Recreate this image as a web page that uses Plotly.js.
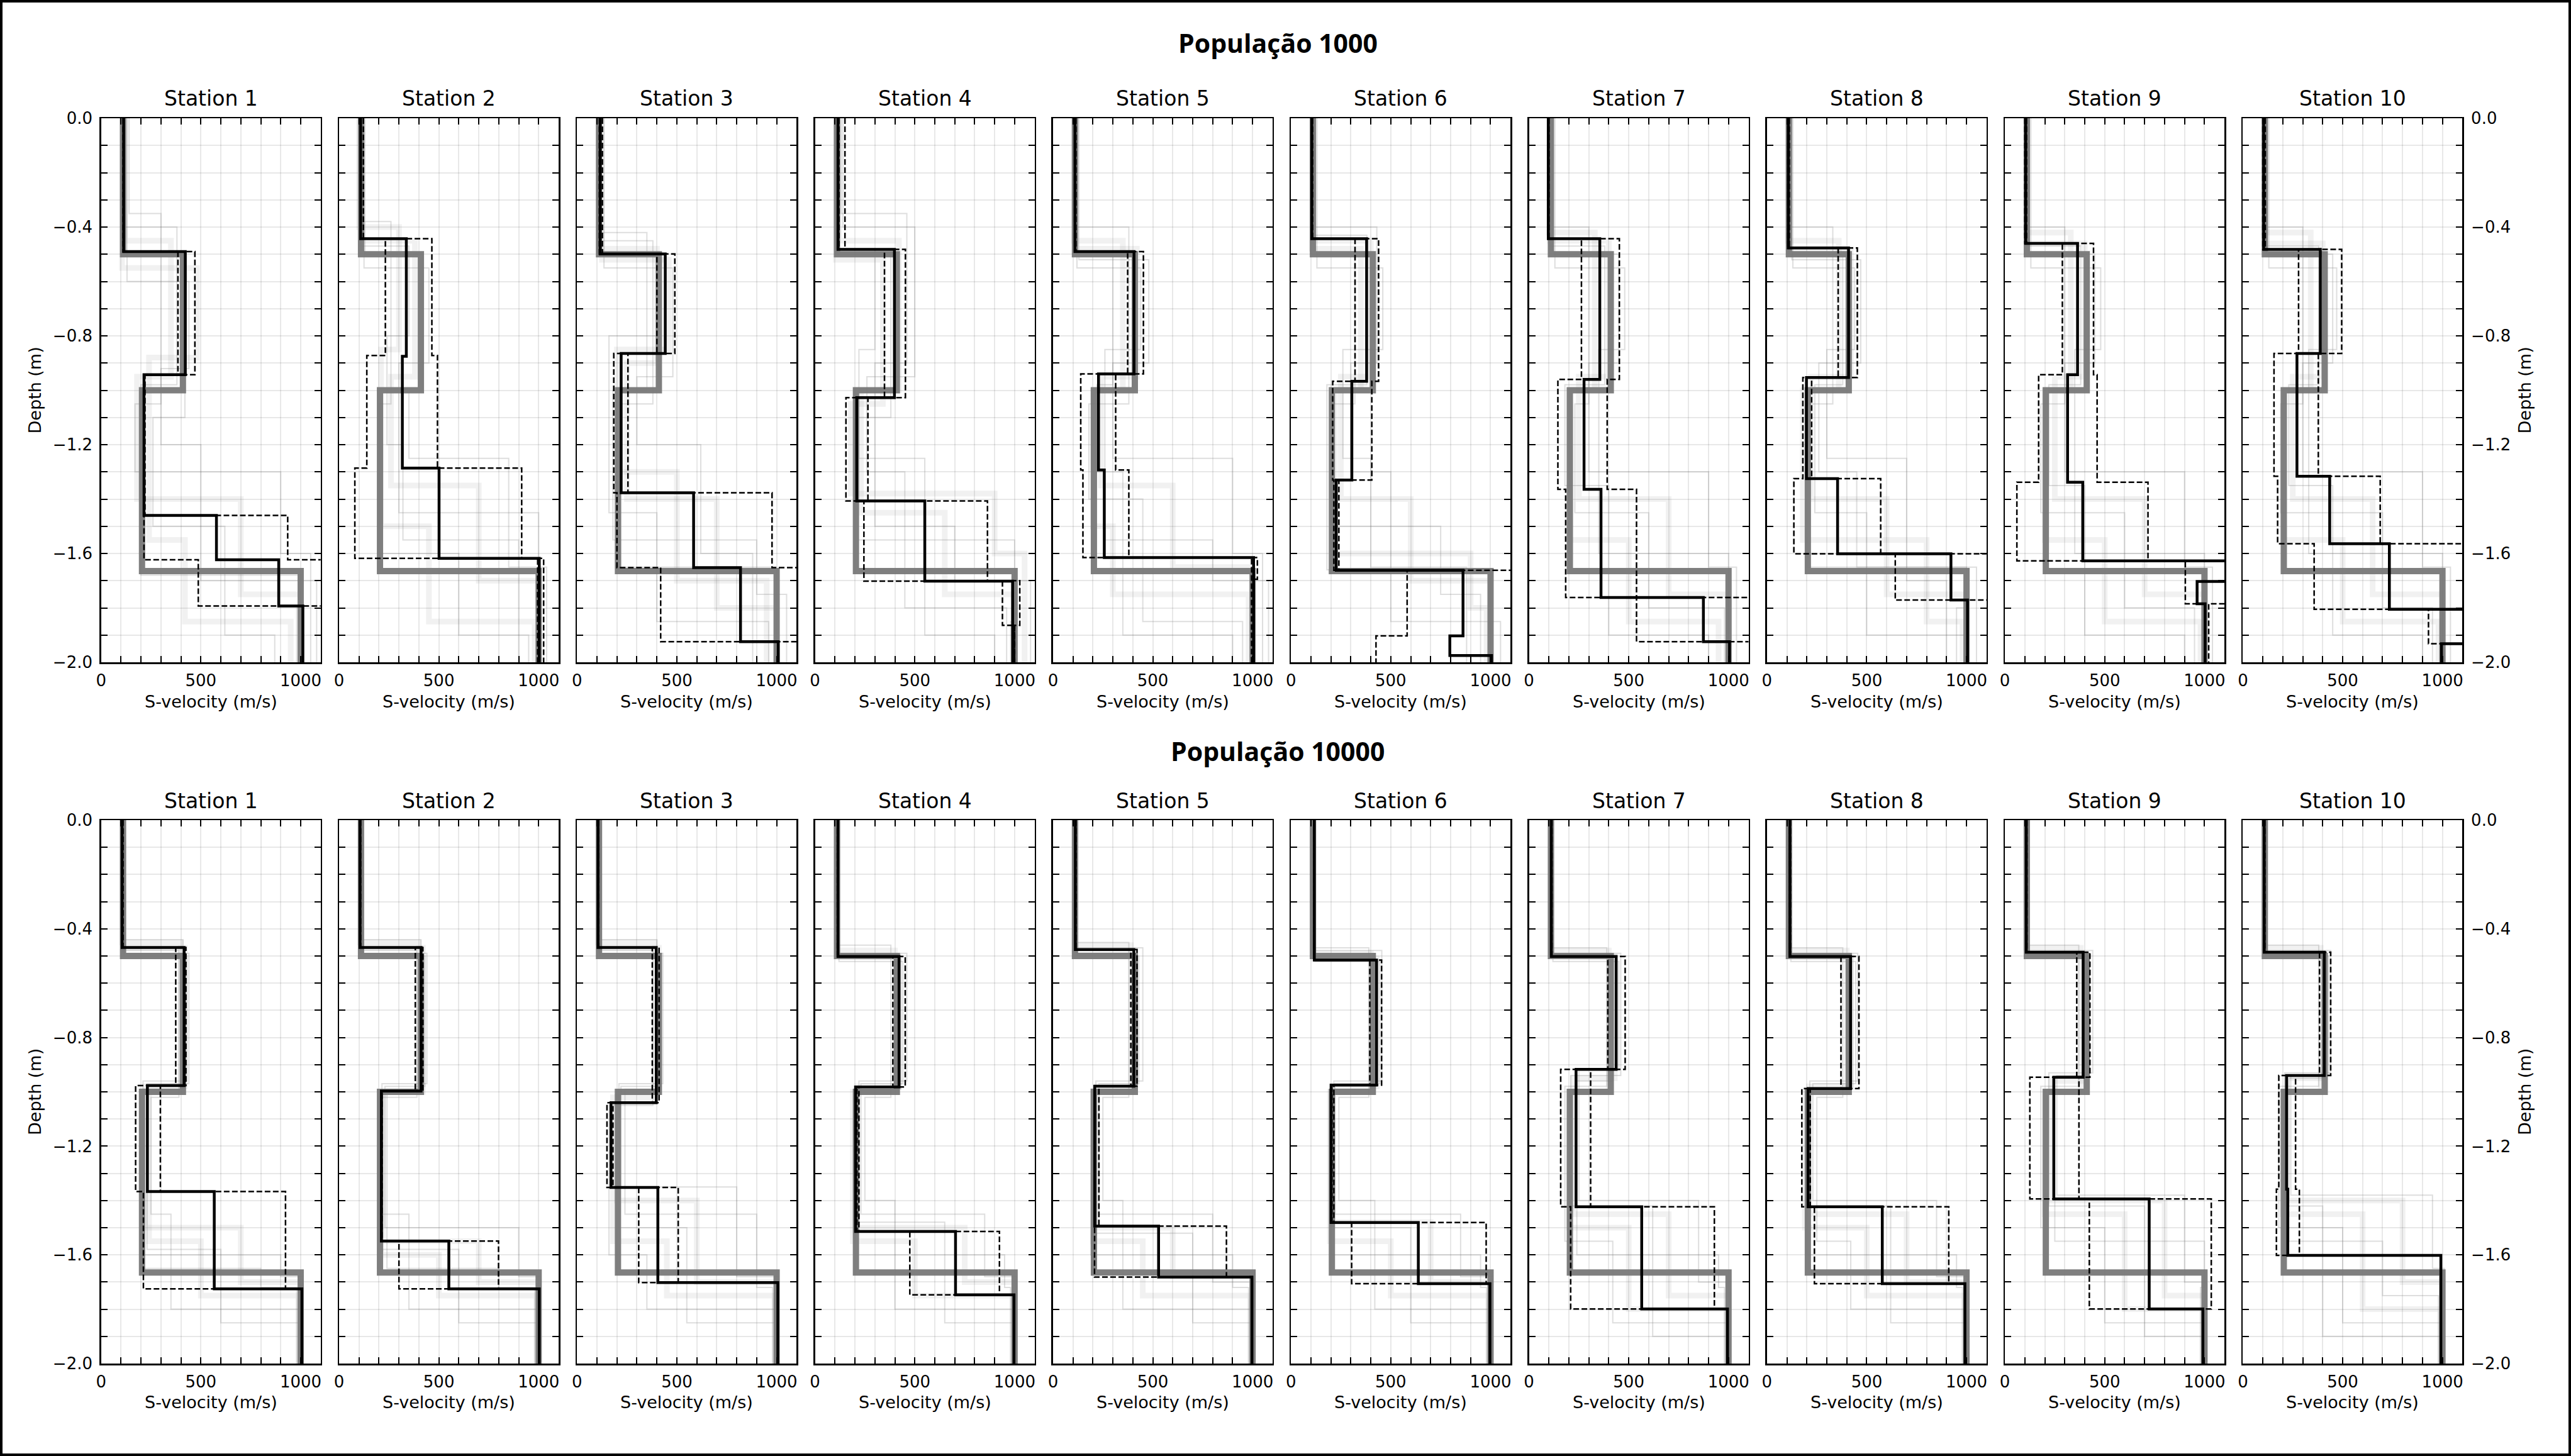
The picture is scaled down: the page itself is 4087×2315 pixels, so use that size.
<!DOCTYPE html>
<html>
<head>
<meta charset="utf-8">
<script src="https://cdn.plot.ly/plotly-3.0.1.min.js"></script>
<style>html,body{margin:0;padding:0;background:#fff;} #chart{width:4087px;height:2315px;}</style>
</head>
<body>
<div id="chart"></div>
<script>
// ---------------- DATA ----------------
const populations = ['População 1000', 'População 10000'];
const stationNames = ['Station 1','Station 2','Station 3','Station 4','Station 5','Station 6','Station 7','Station 8','Station 9','Station 10'];
const xTickVals = [0,100,200,300,400,500,600,700,800,900,1000];
const xTickText = ['0','','','','','500','','','','','1000'];
const yTickVals = [0,-0.1,-0.2,-0.3,-0.4,-0.5,-0.6,-0.7,-0.8,-0.9,-1.0,-1.1,-1.2,-1.3,-1.4,-1.5,-1.6,-1.7,-1.8,-1.9,-2.0];
const yTickText = ['0.0','','','','\u22120.4','','','','\u22120.8','','','','\u22121.2','','','','\u22121.6','','','','\u22122.0'];
const xLabel = 'S-velocity (m/s)';
const yLabel = 'Depth (m)';

// true model (thick gray)
const trueVel = [110, 410, 205, 1000];
const trueDepth = [0.5, 1.0, 1.665];

// Population 1000: best model (black), lower/upper (dashed)
const bestVel_p1000 = [
  [113,422,215,578,890,1011],
  [108,337,317,501,1003],
  [116,442,221,584,819,1008],
  [115,398,209,550,990],
  [110,406,228,257,1005],
  [104,379,305,227,862,796,1005],
  [97,355,276,361,874,1005],
  [107,409,198,354,922,1005],
  [104,364,314,390,1150,963,1003],
  [104,388,271,435,734,1150,995]
];
const bestDepth_p1000 = [
  [0.49,0.943,1.46,1.623,1.793],
  [0.443,0.875,1.286,1.618],
  [0.499,0.865,1.377,1.652,1.924],
  [0.482,1.027,1.407,1.702],
  [0.49,0.94,1.293,1.615],
  [0.443,0.967,1.33,1.662,1.903,1.975],
  [0.443,0.96,1.364,1.762,1.924],
  [0.477,0.953,1.325,1.601,1.771],
  [0.46,0.943,1.338,1.627,1.703,1.785],
  [0.482,0.865,1.316,1.564,1.805,1.932]
];
const loVel_p1000 = [
  [110,385,215,215,487,1150],
  [110,232,139,79,995],
  [112,400,184,200,419,1150],
  [120,348,155,245,939,1000],
  [108,374,139,150,995],
  [104,321,209,215,582,426],
  [97,263,145,184,1150],
  [105,357,180,135,643,1150],
  [100,288,169,60,904,1003],
  [100,279,156,174,357,1150]
];
const loDepth_p1000 = [
  [0.49,0.943,1.46,1.623,1.793],
  [0.443,0.872,1.286,1.618],
  [0.499,0.865,1.377,1.652,1.924],
  [0.482,1.027,1.407,1.702,1.864],
  [0.49,0.94,1.293,1.615],
  [0.443,0.967,1.33,1.662,1.903],
  [0.443,0.96,1.364,1.762],
  [0.477,0.953,1.325,1.601,1.771],
  [0.46,0.943,1.338,1.627,1.785],
  [0.482,0.865,1.316,1.564,1.805]
];
const hiVel_p1000 = [
  [113,470,220,935,1150,1150],
  [122,465,493,915,1025],
  [127,490,255,977,1150],
  [150,453,265,864,1026,1000],
  [115,453,314,380,1024,1005],
  [108,439,405,240,1150],
  [100,453,392,539,1150],
  [112,453,224,570,1150],
  [108,444,462,717,1150,1021],
  [112,495,378,688,1150,930,1150]
];
const hiDepth_p1000 = [
  [0.49,0.943,1.46,1.623,1.793],
  [0.443,0.872,1.286,1.618],
  [0.499,0.865,1.377,1.652],
  [0.482,1.027,1.407,1.70,1.864],
  [0.49,0.94,1.293,1.615,1.695],
  [0.443,0.967,1.33,1.662],
  [0.443,0.96,1.364,1.924],
  [0.477,0.953,1.325,1.601],
  [0.46,0.943,1.338,1.627,1.785],
  [0.482,0.865,1.316,1.564,1.805,1.932]
];
// faint ensemble models: per station, list of [velocities, interface depths]
const faint_p1000 = [
  [[[120,350,180,700,1000],[0.45,0.95,1.40,1.75]],[[105,480,240,420,950],[0.55,0.88,1.55,1.85]],[[140,300,170,900,1050],[0.35,1.05,1.30,1.60]],[[115,420,260,620,870],[0.50,1.10,1.50,1.90]],[[100,380,200,1000,980],[0.40,0.98,1.68,1.80]],[[130,440,300,500,1080],[0.60,0.92,1.20,1.70]]],
  [[[115,380,260,700,1000],[0.45,0.95,1.35,1.70]],[[100,300,210,450,980],[0.40,0.85,1.50,1.85]],[[130,420,350,850,1040],[0.50,1.00,1.25,1.65]],[[110,260,200,600,950],[0.38,1.05,1.60,1.90]],[[125,450,300,1000,1000],[0.55,0.90,1.45,1.75]],[[105,350,240,320,900],[0.47,0.80,1.20,1.55]]],
  [[[110,400,250,700,1000],[0.48,0.90,1.40,1.80]],[[125,460,200,500,950],[0.52,0.85,1.30,1.70]],[[105,350,180,900,1050],[0.42,1.00,1.55,1.75]],[[135,480,300,620,880],[0.55,0.95,1.20,1.60]],[[115,380,220,1000,1000],[0.45,1.05,1.65,1.90]],[[100,420,160,400,960],[0.50,0.80,1.45,1.85]]],
  [[[120,420,230,650,1000],[0.45,1.00,1.45,1.75]],[[105,340,180,900,1050],[0.52,1.05,1.38,1.60]],[[140,500,260,450,960],[0.40,0.95,1.30,1.80]],[[110,380,200,1000,980],[0.50,1.10,1.55,1.85]],[[130,460,300,700,1080],[0.35,0.90,1.50,1.70]],[[100,300,220,550,900],[0.48,0.85,1.25,1.90]]],
  [[[115,420,240,600,1000],[0.48,0.95,1.35,1.65]],[[105,350,200,300,980],[0.45,1.00,1.50,1.75]],[[130,480,300,900,1050],[0.52,0.90,1.25,1.60]],[[100,380,180,450,950],[0.40,1.05,1.40,1.85]],[[120,440,260,800,1080],[0.55,0.85,1.55,1.70]],[[110,300,220,350,900],[0.50,0.98,1.30,1.90]]],
  [[[110,400,250,600,1000],[0.45,0.95,1.40,1.70]],[[105,350,220,900,980],[0.48,1.00,1.60,1.80]],[[120,430,300,500,1050],[0.40,0.90,1.30,1.85]],[[100,320,200,750,950],[0.50,1.05,1.50,1.75]],[[130,460,260,400,880],[0.55,0.85,1.25,1.65]],[[115,380,180,1000,1000],[0.43,0.98,1.66,1.90]]],
  [[[105,400,250,700,1000],[0.45,0.95,1.40,1.75]],[[100,330,200,500,950],[0.42,1.00,1.55,1.85]],[[120,450,300,900,1040],[0.50,0.90,1.30,1.65]],[[110,300,230,600,980],[0.40,1.05,1.45,1.80]],[[130,480,350,1000,1000],[0.55,0.85,1.60,1.70]],[[100,380,180,400,900],[0.47,0.98,1.35,1.90]]],
  [[[110,420,220,600,1000],[0.48,0.95,1.40,1.75]],[[105,360,180,800,980],[0.45,1.00,1.55,1.85]],[[125,470,260,450,1050],[0.52,0.90,1.30,1.65]],[[100,330,200,1000,950],[0.40,1.05,1.65,1.80]],[[130,440,300,700,900],[0.55,0.85,1.25,1.70]],[[110,380,240,500,1000],[0.50,0.98,1.45,1.90]]],
  [[[110,400,250,700,1000],[0.46,0.95,1.40,1.75]],[[105,330,200,500,980],[0.42,1.00,1.55,1.85]],[[120,450,300,900,1040],[0.50,0.90,1.30,1.65]],[[100,300,180,600,950],[0.40,1.05,1.45,1.80]],[[130,480,350,1000,1000],[0.55,0.85,1.60,1.70]],[[110,380,220,400,900],[0.47,0.98,1.35,1.90]]],
  [[[110,400,250,650,1000],[0.46,0.95,1.40,1.75]],[[105,340,200,500,980],[0.42,1.00,1.55,1.85]],[[120,450,300,900,1040],[0.50,0.90,1.30,1.65]],[[100,300,190,700,950],[0.40,1.05,1.45,1.80]],[[130,470,330,1000,1000],[0.55,0.85,1.60,1.70]],[[110,380,230,450,900],[0.47,0.98,1.35,1.90]]]
];

// Population 10000
const bestVel_p10000 = [
  [105,416,232,567,1006],
  [105,411,212,550,1003],
  [105,397,170,405,1006],
  [115,421,203,704,997],
  [112,405,209,529,997],
  [117,429,201,638,997],
  [112,437,236,565,995],
  [115,419,206,578,992],
  [107,392,245,723,992],
  [107,408,219,225,992]
];
const bestDepth_p10000 = [
  [0.469,0.977,1.367,1.725],
  [0.469,0.997,1.549,1.725],
  [0.469,1.04,1.352,1.702],
  [0.502,0.982,1.514,1.747],
  [0.476,0.979,1.494,1.682],
  [0.515,0.975,1.481,1.706],
  [0.502,0.917,1.423,1.799],
  [0.502,0.988,1.423,1.706],
  [0.486,0.946,1.394,1.799],
  [0.486,0.94,1.358,1.602]
];
const loVel_p10000 = [
  [105,374,173,212,1006],
  [105,382,210,300,1003],
  [105,377,150,309,1006],
  [112,390,210,475,997],
  [112,390,210,208,997],
  [115,395,205,304,997],
  [112,395,159,209,995],
  [112,371,175,238,992],
  [105,360,125,423,992],
  [105,384,180,168,992]
];
const loDepth_p10000 = bestDepth_p10000;
const hiVel_p10000 = [
  [110,425,297,924,1006],
  [108,420,215,799,1003],
  [108,411,180,507,1006],
  [115,452,220,924,997],
  [115,421,230,869,997],
  [118,454,215,978,997],
  [115,482,309,929,995],
  [118,461,217,911,992],
  [110,426,371,1034,992],
  [110,440,264,283,992]
];
const hiDepth_p10000 = bestDepth_p10000;
const faint_p10000 = [
  [[[110,420,220,700,1000],[0.47,0.98,1.50,1.70]],[[105,400,240,500,990],[0.45,1.00,1.55,1.75]],[[115,430,210,900,1010],[0.50,0.96,1.60,1.68]],[[100,390,250,350,1000],[0.48,1.02,1.45,1.80]],[[112,410,200,800,980],[0.44,0.99,1.65,1.72]],[[108,440,230,600,1000],[0.49,0.97,1.58,1.85]]],
  [[[110,420,220,700,1000],[0.47,1.00,1.55,1.70]],[[105,400,210,500,990],[0.45,1.00,1.60,1.75]],[[115,430,230,900,1010],[0.50,0.98,1.50,1.68]],[[100,390,200,350,1000],[0.48,1.02,1.45,1.80]],[[112,410,240,800,980],[0.44,0.99,1.65,1.72]],[[108,440,215,600,1000],[0.49,0.97,1.58,1.85]]],
  [[[110,410,200,600,1000],[0.47,1.00,1.40,1.70]],[[105,390,180,450,990],[0.45,1.02,1.55,1.75]],[[115,420,220,800,1010],[0.50,0.98,1.35,1.68]],[[100,380,160,350,1000],[0.48,1.05,1.60,1.80]],[[112,400,240,900,980],[0.44,0.99,1.45,1.72]],[[108,430,210,550,1000],[0.49,0.97,1.50,1.85]]],
  [[[115,420,210,750,1000],[0.50,0.98,1.50,1.70]],[[110,400,190,500,990],[0.48,1.00,1.55,1.75]],[[120,440,230,850,1010],[0.52,0.97,1.45,1.68]],[[112,380,250,400,1000],[0.46,1.02,1.40,1.80]],[[118,430,200,950,980],[0.51,0.99,1.60,1.72]],[[108,460,220,650,1000],[0.49,0.96,1.48,1.85]]],
  [[[115,410,220,600,1000],[0.48,0.98,1.50,1.68]],[[110,390,200,450,990],[0.46,1.00,1.55,1.75]],[[120,430,230,800,1010],[0.50,0.97,1.45,1.70]],[[112,380,250,350,1000],[0.45,1.02,1.40,1.80]],[[118,420,190,900,980],[0.49,0.99,1.60,1.72]],[[108,450,215,700,1000],[0.47,0.96,1.52,1.85]]],
  [[[115,430,210,700,1000],[0.51,0.98,1.48,1.70]],[[110,400,195,500,990],[0.49,1.00,1.55,1.75]],[[120,445,220,850,1010],[0.52,0.97,1.45,1.68]],[[112,390,240,420,1000],[0.47,1.02,1.40,1.80]],[[118,420,200,950,980],[0.50,0.99,1.60,1.72]],[[108,455,215,600,1000],[0.48,0.96,1.50,1.85]]],
  [[[115,430,220,700,1000],[0.50,0.95,1.45,1.75]],[[110,400,200,500,990],[0.48,1.00,1.50,1.80]],[[120,450,250,850,1010],[0.52,0.92,1.40,1.70]],[[112,390,180,420,1000],[0.47,0.98,1.55,1.85]],[[118,420,240,950,980],[0.50,0.96,1.60,1.72]],[[108,460,210,620,1000],[0.49,0.94,1.42,1.90]]],
  [[[115,420,210,700,1000],[0.50,0.98,1.45,1.70]],[[110,400,190,500,990],[0.48,1.00,1.50,1.75]],[[120,445,230,850,1010],[0.52,0.97,1.40,1.68]],[[112,380,250,420,1000],[0.47,1.02,1.55,1.80]],[[118,430,200,950,980],[0.50,0.99,1.60,1.72]],[[108,455,215,620,1000],[0.49,0.96,1.42,1.85]]],
  [[[110,400,230,800,1000],[0.49,0.96,1.40,1.75]],[[105,380,200,600,990],[0.47,1.00,1.45,1.80]],[[115,420,260,900,1010],[0.50,0.94,1.38,1.70]],[[108,370,180,500,1000],[0.46,0.98,1.50,1.85]],[[112,410,250,1000,980],[0.49,0.95,1.55,1.72]],[[105,440,220,700,1000],[0.48,0.93,1.42,1.90]]],
  [[[110,410,220,800,1000],[0.49,0.95,1.40,1.70]],[[105,390,200,600,990],[0.47,1.00,1.45,1.80]],[[115,430,240,950,1010],[0.50,0.94,1.38,1.65]],[[108,380,180,500,1000],[0.46,0.98,1.50,1.85]],[[112,420,230,700,980],[0.49,0.95,1.55,1.75]],[[105,440,210,400,1000],[0.48,0.93,1.42,1.90]]]
];

// ---------------- BUILD ----------------
const W = 4087, H = 2315;
const maxDepth = 2.0;
const panelLeft0 = 160.7, panelStep = 378.3, panelW = 349;
const rowGeom = [
  {top: 188, bottom: 1053, supY: 68, titleY: 157, xlabY: 1115},
  {top: 1304, bottom: 2168, supY: 1194, titleY: 1273, xlabY: 2229}
];
const popData = [
  {best: bestVel_p1000, bestD: bestDepth_p1000, lo: loVel_p1000, loD: loDepth_p1000, hi: hiVel_p1000, hiD: hiDepth_p1000, faint: faint_p1000},
  {best: bestVel_p10000, bestD: bestDepth_p10000, lo: loVel_p10000, loD: loDepth_p10000, hi: hiVel_p10000, hiD: hiDepth_p10000, faint: faint_p10000}
];

function steps(v, d) {
  const x = [], y = [];
  let top = 0;
  for (let i = 0; i < v.length; i++) {
    const bot = i < d.length ? d[i] : maxDepth;
    x.push(v[i], v[i]);
    y.push(-top, -bot);
    top = bot;
  }
  return {x, y};
}

const traces = [];
const layout = {
  width: W, height: H,
  margin: {l: 0, r: 0, t: 0, b: 0},
  paper_bgcolor: '#fff', plot_bgcolor: '#fff',
  showlegend: false,
  font: {family: 'DejaVu Sans', color: '#000'},
  annotations: [],
  shapes: [{type: 'rect', xref: 'paper', yref: 'paper', x0: 0, x1: 1, y0: 0, y1: 1, line: {color: '#000', width: 8}, layer: 'above'}]
};
const tickFont = {family: 'DejaVu Sans', size: 26, color: '#000'};

for (let r = 0; r < 2; r++) {
  const g = rowGeom[r];
  const P = popData[r];
  layout.annotations.push({text: '<b>' + populations[r] + '</b>', xref: 'paper', yref: 'paper', x: 2031 / W, y: 1 - g.supY / H,
    xanchor: 'center', yanchor: 'middle', showarrow: false, font: {family: 'Open Sans', size: 41, color: '#000'}});
  layout.annotations.push({text: yLabel, xref: 'paper', yref: 'paper', x: 55 / W, y: 1 - (g.top + g.bottom) / 2 / H,
    xanchor: 'center', yanchor: 'middle', textangle: -90, showarrow: false, font: {family: 'DejaVu Sans', size: 27, color: '#000'}});
  layout.annotations.push({text: yLabel, xref: 'paper', yref: 'paper', x: 4013 / W, y: 1 - (g.top + g.bottom) / 2 / H,
    xanchor: 'center', yanchor: 'middle', textangle: -90, showarrow: false, font: {family: 'DejaVu Sans', size: 27, color: '#000'}});
  for (let i = 0; i < 10; i++) {
    const idx = r * 10 + i + 1;
    const xa = 'x' + idx, ya = 'y' + idx;
    const left = panelLeft0 + panelStep * i;
    const cx = (left + panelW / 2) / W;
    layout['xaxis' + idx] = {
      domain: [left / W, (left + panelW) / W], range: [0, 1100], anchor: ya,
      tickmode: 'array', tickvals: xTickVals, ticktext: xTickText,
      ticks: 'inside', ticklen: 10, tickwidth: 2, tickcolor: '#000', mirror: 'allticks',
      showline: true, linecolor: '#000', linewidth: 2.5,
      showgrid: true, gridcolor: 'rgba(0,0,0,0.09)', gridwidth: 2, zeroline: false,
      tickfont: tickFont, ticklabelstandoff: 4, fixedrange: true
    };
    layout['yaxis' + idx] = {
      domain: [1 - g.bottom / H, 1 - g.top / H], range: [-2, 0], anchor: xa,
      tickmode: 'array', tickvals: yTickVals, ticktext: yTickText,
      ticks: 'inside', ticklen: 10, tickwidth: 2, tickcolor: '#000', mirror: 'allticks',
      showline: true, linecolor: '#000', linewidth: 2.5,
      showgrid: true, gridcolor: 'rgba(0,0,0,0.09)', gridwidth: 2, zeroline: false,
      showticklabels: (i === 0 || i === 9), side: (i === 9 ? 'right' : 'left'),
      tickfont: tickFont, ticklabelstandoff: 6, fixedrange: true
    };
    layout.annotations.push({text: stationNames[i], xref: 'paper', yref: 'paper', x: cx, y: 1 - g.titleY / H,
      xanchor: 'center', yanchor: 'middle', showarrow: false, font: {family: 'DejaVu Sans', size: 33, color: '#000'}});
    layout.annotations.push({text: xLabel, xref: 'paper', yref: 'paper', x: cx, y: 1 - g.xlabY / H,
      xanchor: 'center', yanchor: 'middle', showarrow: false, font: {family: 'DejaVu Sans', size: 27, color: '#000'}});

    // faint ensemble
    const thinX = [], thinY = [], thickX = [], thickY = [];
    P.faint[i].forEach((m, k) => {
      const s = steps(m[0], m[1]);
      const tx = k < 2 ? thickX : thinX, ty = k < 2 ? thickY : thinY;
      tx.push(...s.x, null); ty.push(...s.y, null);
    });
    traces.push({x: thickX, y: thickY, xaxis: xa, yaxis: ya, mode: 'lines', hoverinfo: 'skip',
      line: {color: 'rgba(128,128,128,0.11)', width: 9}});
    traces.push({x: thinX, y: thinY, xaxis: xa, yaxis: ya, mode: 'lines', hoverinfo: 'skip',
      line: {color: 'rgba(128,128,128,0.26)', width: 2}});
    // true model
    const t = steps(trueVel, trueDepth);
    traces.push({x: t.x, y: t.y, xaxis: xa, yaxis: ya, mode: 'lines', hoverinfo: 'skip',
      line: {color: 'rgba(120,120,120,0.95)', width: 10}});
    // dashed bounds
    const lo = steps(P.lo[i], P.loD[i]);
    traces.push({x: lo.x, y: lo.y, xaxis: xa, yaxis: ya, mode: 'lines', hoverinfo: 'skip',
      line: {color: '#000', width: 2.5, dash: '9px,4px'}});
    const hi = steps(P.hi[i], P.hiD[i]);
    traces.push({x: hi.x, y: hi.y, xaxis: xa, yaxis: ya, mode: 'lines', hoverinfo: 'skip',
      line: {color: '#000', width: 2.5, dash: '9px,4px'}});
    // best model
    const b = steps(P.best[i], P.bestD[i]);
    traces.push({x: b.x, y: b.y, xaxis: xa, yaxis: ya, mode: 'lines', hoverinfo: 'skip',
      line: {color: '#000', width: 4.5}});
  }
}

Plotly.newPlot('chart', traces, layout, {staticPlot: true, displayModeBar: false});
</script>
</body>
</html>
